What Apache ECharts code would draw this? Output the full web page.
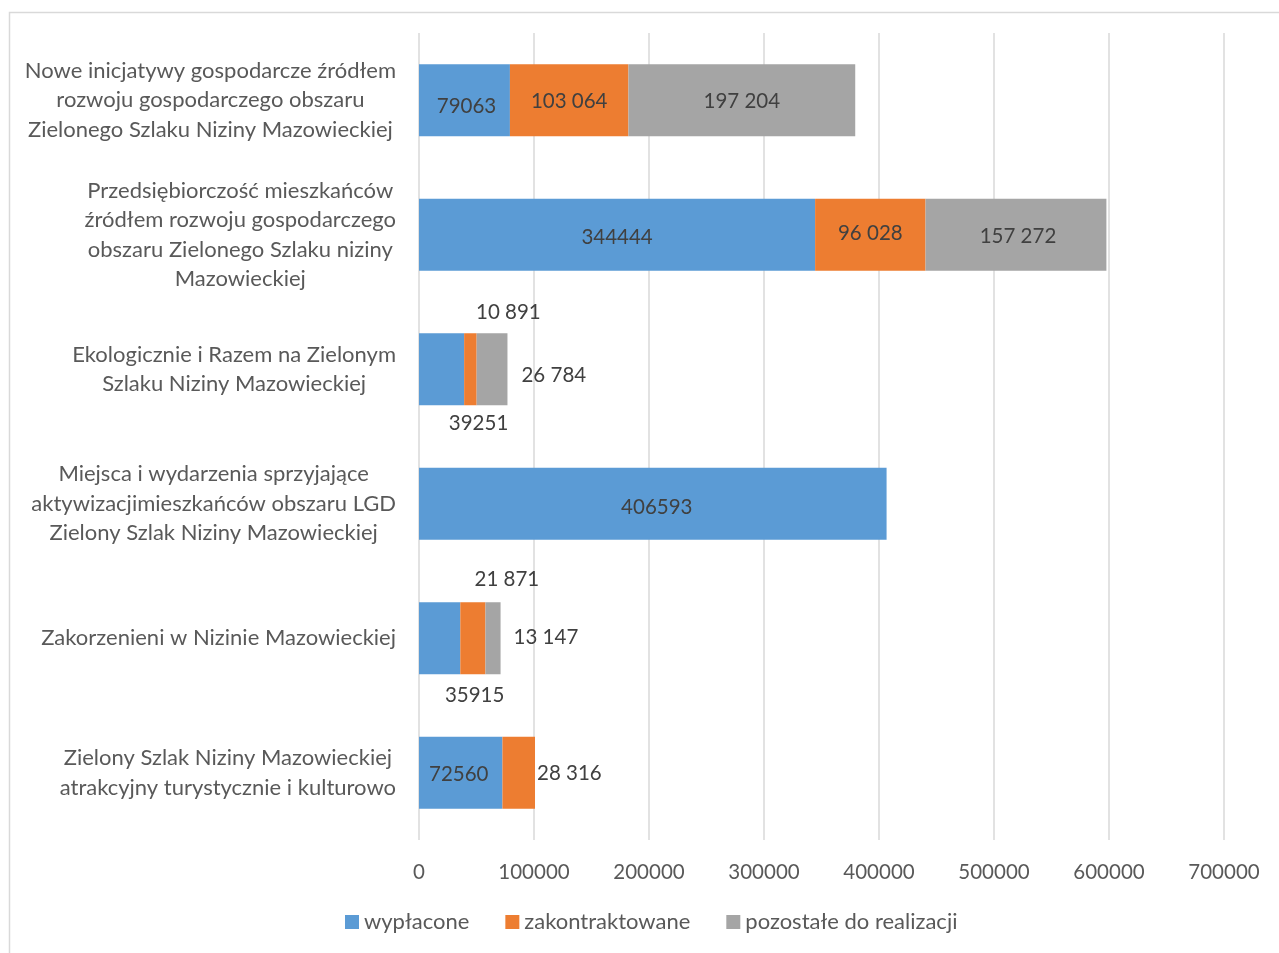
<!DOCTYPE html>
<html>
<head>
<meta charset="utf-8">
<script src="https://cdn.jsdelivr.net/npm/echarts@6/dist/echarts.min.js"></script>
<style>html,body{margin:0;padding:0;background:#fff}#c{width:1279px;height:953px}</style>
</head>
<body>
<div id="c"></div>
<script>
const categories = [
  'Nowe inicjatywy gospodarcze źródłem\nrozwoju gospodarczego obszaru\nZielonego Szlaku Niziny Mazowieckiej',
  'Przedsiębiorczość mieszkańców\nźródłem rozwoju gospodarczego\nobszaru Zielonego Szlaku niziny\nMazowieckiej',
  'Ekologicznie i Razem na Zielonym\nSzlaku Niziny Mazowieckiej',
  'Miejsca i wydarzenia sprzyjające\naktywizacjimieszkańców obszaru LGD\nZielony Szlak Niziny Mazowieckiej',
  'Zakorzenieni w Nizinie Mazowieckiej',
  'Zielony Szlak Niziny Mazowieckiej\natrakcyjny turystycznie i kulturowo'
];
const seriesNames = ['wypłacone', 'zakontraktowane', 'pozostałe do realizacji'];
const wyplacone = [79063, 344444, 39251, 406593, 35915, 72560];
const zakontraktowane = [103064, 96028, 10891, 0, 21871, 28316];
const pozostale = [197204, 157272, 26784, 0, 13147, 0];
const xTicks = [0, 100000, 200000, 300000, 400000, 500000, 600000, 700000];

const FONT = 'Lato';
const colors = ['#5B9BD5', '#ED7D31', '#A5A5A5'];

// label placement tweaks (index -> label options)
const labelTweaks = [
  {0: {offset: [2, 6]}, 1: {offset: [0, 3]}, 2: {position: 'bottom', offset: [37, 3]}, 3: {offset: [4, 4]}, 4: {position: 'bottom', offset: [35, 6]}, 5: {offset: [-2, 2]}},
  {0: {offset: [0, 1]}, 1: {offset: [0, -1]}, 2: {position: 'top', offset: [38, -5]}, 4: {position: 'top', offset: [34, -7]}, 5: {position: 'right', distance: 2, offset: [0, 1]}},
  {0: {offset: [0, 1]}, 1: {offset: [2, 2]}, 2: {position: 'right', offset: [9, 6]}, 4: {position: 'right', offset: [8, -1]}}
];

function spaced(v) { return String(v).replace(/\B(?=(\d{3})+(?!\d))/g, ' '); }

function buildData(arr, si) {
  return arr.map((v, i) => {
    const t = labelTweaks[si][i];
    return t ? {value: v, label: t} : {value: v};
  });
}

const seriesData = [wyplacone, zakontraktowane, pozostale];
const series = seriesData.map((arr, si) => ({
  name: seriesNames[si],
  type: 'bar',
  stack: 'total',
  barWidth: 72,
  itemStyle: {color: colors[si]},
  label: {
    show: true,
    position: 'inside',
    color: '#404040',
    fontSize: 20.5,
    fontFamily: FONT,
    formatter: p => p.value === 0 ? '' : (si === 0 ? String(p.value) : spaced(p.value))
  },
  data: buildData(arr, si)
}));

const chart = echarts.init(document.getElementById('c'));
chart.setOption({
  animation: false,
  textStyle: {fontFamily: FONT},
  graphic: [{
    type: 'rect', silent: true, z: -1,
    shape: {x: 9.5, y: 12.5, width: 1400, height: 1000},
    style: {fill: 'none', stroke: '#d9d9d9', lineWidth: 1.5}
  }],
  grid: {left: 419, right: 55, top: 33, bottom: 113, containLabel: false},
  legend: {
    left: 340, bottom: 15,
    icon: 'rect', itemWidth: 14, itemHeight: 14, itemGap: 36, itemTextGap: 6,
    textStyle: {fontSize: 22, color: '#595959', fontFamily: FONT},
    data: seriesNames
  },
  xAxis: {
    type: 'value', min: 0, max: 700000, interval: 100000,
    axisLine: {show: false}, axisTick: {show: false},
    splitLine: {lineStyle: {color: '#d9d9d9', width: 1.5}},
    axisLabel: {fontSize: 20.5, color: '#595959', margin: 22, fontFamily: FONT,
      formatter: v => xTicks.includes(v) ? String(v) : ''}
  },
  yAxis: {
    type: 'category', inverse: true, data: categories,
    axisLine: {show: false}, axisTick: {show: false},
    axisLabel: {
      margin: 23, fontSize: 22, color: '#595959', fontFamily: FONT, lineHeight: 29.5,
      formatter: v => v.split('\n').map(l => '{c|' + l + '}').join('\n'),
      rich: {c: {align: 'center', fontSize: 22, color: '#595959', fontFamily: FONT, lineHeight: 29.5}}
    }
  },
  series: series
});
</script>
</body>
</html>
